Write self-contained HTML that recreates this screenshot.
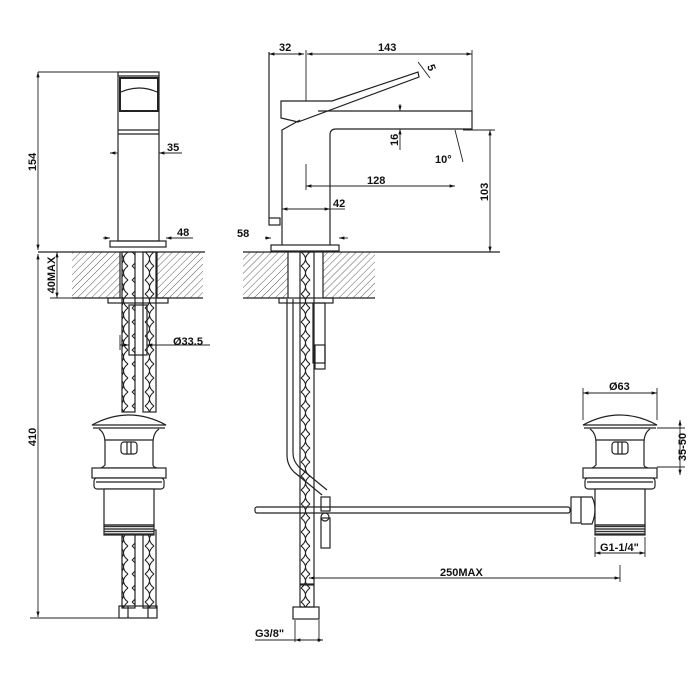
<!DOCTYPE html>
<html><head><meta charset="utf-8"><style>
html,body{margin:0;padding:0;background:#fff}
svg{display:block}
text{font-family:"Liberation Sans",Arial,sans-serif;font-weight:bold;font-size:11px;fill:#111}
</style></head><body>
<svg width="700" height="700" viewBox="0 0 700 700" xmlns="http://www.w3.org/2000/svg">
<defs>
<pattern id="h" width="5" height="5" patternUnits="userSpaceOnUse" patternTransform="rotate(45)">
<line x1="0" y1="0" x2="0" y2="5" stroke="#333" stroke-width="0.8"/></pattern>
<pattern id="br" width="13" height="14" patternUnits="userSpaceOnUse">
<path d="M2,0 Q11,7 2,14 M11,0 Q2,7 11,14" fill="none" stroke="#222" stroke-width="1.1"/></pattern>
<pattern id="th" width="4" height="2.5" patternUnits="userSpaceOnUse">
<rect width="4" height="2.5" fill="#fff"/><line x1="0" y1="1" x2="4" y2="1" stroke="#333" stroke-width="1.4"/></pattern>
<marker id="a" viewBox="0 0 10 10" refX="10" refY="5" markerWidth="6" markerHeight="6" orient="auto-start-reverse"><path d="M0,2 L10,5 L0,8z" fill="#111"/></marker>
<g id="pop" fill="#fff" stroke="#222" stroke-width="1.2">
<path d="M-37,12 Q0,-8 37,12 Z"/>
<line x1="-36" y1="15" x2="36" y2="15"/>
<path d="M-30,16 Q-24,20 -24,30 L-24,52 Q-26,54 -28,55 L28,55 Q24,54 24,52 L24,30 Q24,20 30,16"/>
<line x1="-24" y1="27" x2="24" y2="27"/>
<rect x="-8" y="29" width="16" height="12" rx="3"/>
<line x1="-2" y1="29" x2="-2" y2="41"/><line x1="2" y1="29" x2="2" y2="41"/>
<rect x="-37" y="55" width="74" height="10"/>
<rect x="-35" y="65" width="70" height="11" rx="3"/>
<line x1="-33" y1="69" x2="33" y2="69"/>
<rect x="-25" y="76" width="50" height="36"/>
<rect x="-25" y="112" width="50" height="10" fill="url(#th)"/>
</g>
</defs>

<!-- LEFT VIEW -->
<g fill="none" stroke="#222" stroke-width="1.2">
<rect x="118" y="72" width="41" height="169"/>
<line x1="118" y1="76" x2="159" y2="76"/>
<rect x="120" y="78" width="38" height="33" stroke-width="2"/>
<path d="M121,92 Q139,84 157,92"/>
<line x1="118" y1="130" x2="159" y2="130"/><line x1="118" y1="134" x2="159" y2="134"/>
<rect x="110" y="241" width="56" height="6"/>
<rect x="72" y="252" width="48" height="46" fill="url(#h)" stroke="none"/>
<rect x="157" y="252" width="46" height="46" fill="url(#h)" stroke="none"/>
<line x1="38" y1="252" x2="205" y2="252"/>
<line x1="72" y1="298" x2="120" y2="298"/><line x1="157" y1="298" x2="203" y2="298"/>
<line x1="120" y1="252" x2="120" y2="298"/><line x1="157" y1="252" x2="157" y2="298"/>
<rect x="108" y="298" width="60" height="5"/>
<rect x="122" y="252" width="13" height="160" fill="url(#br)"/>
<rect x="143" y="252" width="13" height="160" fill="url(#br)"/>
<rect x="122" y="530" width="13" height="78" fill="url(#br)"/>
<rect x="143" y="530" width="13" height="78" fill="url(#br)"/>
<rect x="129" y="305" width="18" height="50"/>
<rect x="119" y="606" width="38" height="12"/>
<line x1="128" y1="606" x2="128" y2="618"/><line x1="148" y1="606" x2="148" y2="618"/>
</g>
<use href="#pop" x="129" y="413"/>
<!-- left dims -->
<g stroke="#222" stroke-width="0.9" fill="none">
<line x1="38" y1="72" x2="118" y2="72"/>
<line x1="38" y1="72" x2="38" y2="250" marker-start="url(#a)" marker-end="url(#a)"/>
<line x1="38" y1="254" x2="38" y2="617" marker-start="url(#a)" marker-end="url(#a)"/>
<line x1="30" y1="618" x2="120" y2="618"/>
<line x1="57" y1="252" x2="57" y2="298" marker-start="url(#a)" marker-end="url(#a)"/>
<line x1="50" y1="298" x2="110" y2="298"/>
<line x1="110" y1="153" x2="118" y2="153" marker-start="url(#a)"/><line x1="159" y1="153" x2="182" y2="153" marker-start="url(#a)"/>
<line x1="103" y1="238" x2="110" y2="238" marker-end="url(#a)"/><line x1="166" y1="238" x2="193" y2="238" marker-start="url(#a)"/>
<line x1="120" y1="345" x2="129" y2="345" marker-end="url(#a)"/><line x1="147" y1="345" x2="210" y2="345" marker-start="url(#a)"/>
<line x1="120" y1="335" x2="120" y2="350"/>
</g>
<text x="167" y="151">35</text>
<text x="177" y="236">48</text>
<text x="173" y="345">Ø33.5</text>
<text transform="translate(36,162) rotate(-90)" text-anchor="middle">154</text>
<text transform="translate(36,437) rotate(-90)" text-anchor="middle">410</text>
<text transform="translate(55,275) rotate(-90)" text-anchor="middle">40MAX</text>

<!-- RIGHT VIEW -->
<g fill="none" stroke="#222" stroke-width="1.2">
<path d="M281,101 L332,101 L418,72 L419,77 L298,122 L281,118 Z"/>
<path d="M282,245 L282,130 L300,120"/>
<path d="M318,111 L472,111 L472,129 L336,129 Q330,129 330,135 L330,245"/>
<rect x="269" y="218" width="11" height="7"/>
<line x1="269" y1="52" x2="269" y2="218"/>
<rect x="271" y="245" width="68" height="6"/>
<rect x="243" y="252" width="45" height="46" fill="url(#h)" stroke="none"/>
<rect x="323" y="252" width="52" height="46" fill="url(#h)" stroke="none"/>
<line x1="243" y1="252" x2="500" y2="252"/>
<line x1="243" y1="298" x2="288" y2="298"/><line x1="323" y1="298" x2="375" y2="298"/>
<line x1="288" y1="252" x2="288" y2="298"/><line x1="323" y1="252" x2="323" y2="298"/>
<rect x="279" y="298" width="54" height="5"/>
<path d="M287,299 L287,455 Q287,465 294,472 L322,495 M293,299 L293,453 Q293,461 299,467 L327,490"/>
<rect x="313" y="303" width="12" height="60"/>
<rect x="315" y="345" width="10" height="24"/>
<rect x="300" y="252" width="14" height="332" fill="url(#br)"/>
<rect x="300" y="585" width="14" height="22" fill="url(#br)"/>
<rect x="293" y="607" width="26" height="12"/>
<rect x="255" y="507" width="315" height="6" rx="2"/>
<rect x="321" y="497" width="9" height="14"/>
<circle cx="325" cy="517" r="4"/>
<rect x="321" y="518" width="9" height="30"/>
<rect x="571" y="497" width="10" height="26"/>
<path d="M581,497 L592,497 Q598,509 592,524 L581,524"/>
</g>
<use href="#pop" x="620" y="413"/>
<!-- right dims -->
<g stroke="#222" stroke-width="0.9" fill="none">
<line x1="269" y1="54" x2="304" y2="54" marker-start="url(#a)" marker-end="url(#a)"/>
<line x1="307" y1="54" x2="472" y2="54" marker-start="url(#a)" marker-end="url(#a)"/>
<line x1="306" y1="50" x2="306" y2="101"/><line x1="472" y1="50" x2="472" y2="111"/>
<line x1="418" y1="62" x2="430" y2="78"/>
<line x1="400" y1="104" x2="400" y2="111" marker-end="url(#a)"/>
<line x1="400" y1="150" x2="400" y2="129" marker-end="url(#a)"/>
<line x1="455" y1="130" x2="463" y2="162"/>
<line x1="306" y1="164" x2="306" y2="190"/>
<line x1="306" y1="186" x2="455" y2="186" marker-start="url(#a)" marker-end="url(#a)"/>
<line x1="282" y1="209" x2="330" y2="209" marker-start="url(#a)" marker-end="url(#a)"/>
<line x1="330" y1="209" x2="345" y2="209"/>
<line x1="463" y1="130" x2="495" y2="130"/>
<line x1="490" y1="130" x2="490" y2="252" marker-start="url(#a)" marker-end="url(#a)"/>
<line x1="265" y1="238" x2="271" y2="238" marker-end="url(#a)"/><line x1="339" y1="238" x2="348" y2="238" marker-start="url(#a)"/>
<line x1="583" y1="393" x2="657" y2="393" marker-start="url(#a)" marker-end="url(#a)"/>
<line x1="583" y1="388" x2="583" y2="420"/><line x1="657" y1="388" x2="657" y2="420"/>
<line x1="657" y1="428" x2="685" y2="428"/><line x1="657" y1="467" x2="685" y2="467"/>
<line x1="680" y1="420" x2="680" y2="475" marker-start="url(#a)" marker-end="url(#a)"/>
<line x1="595" y1="537" x2="595" y2="557"/><line x1="645" y1="537" x2="645" y2="557"/>
<line x1="595" y1="553" x2="645" y2="553" marker-start="url(#a)" marker-end="url(#a)"/>
<line x1="620" y1="565" x2="620" y2="582"/>
<line x1="309" y1="578" x2="620" y2="578" marker-start="url(#a)" marker-end="url(#a)"/>
<line x1="295" y1="620" x2="295" y2="642"/><line x1="319" y1="620" x2="319" y2="642"/>
<line x1="255" y1="640" x2="295" y2="640"/>
<line x1="295" y1="640" x2="323" y2="640" marker-start="url(#a)" marker-end="url(#a)"/>
</g>
<text x="279" y="51">32</text>
<text x="378" y="51">143</text>
<text transform="translate(427,66) rotate(70)">5</text>
<text transform="translate(398,146) rotate(-90)">16</text>
<text x="435" y="163">10°</text>
<text x="367" y="184">128</text>
<text x="333" y="207">42</text>
<text x="237" y="237">58</text>
<text transform="translate(488,192) rotate(-90)" text-anchor="middle">103</text>
<text x="609" y="390">Ø63</text>
<text transform="translate(686,447) rotate(-90)" text-anchor="middle">35-50</text>
<text x="600" y="551">G1-1/4"</text>
<text x="440" y="576">250MAX</text>
<text x="255" y="637">G3/8"</text>
</svg>
</body></html>
